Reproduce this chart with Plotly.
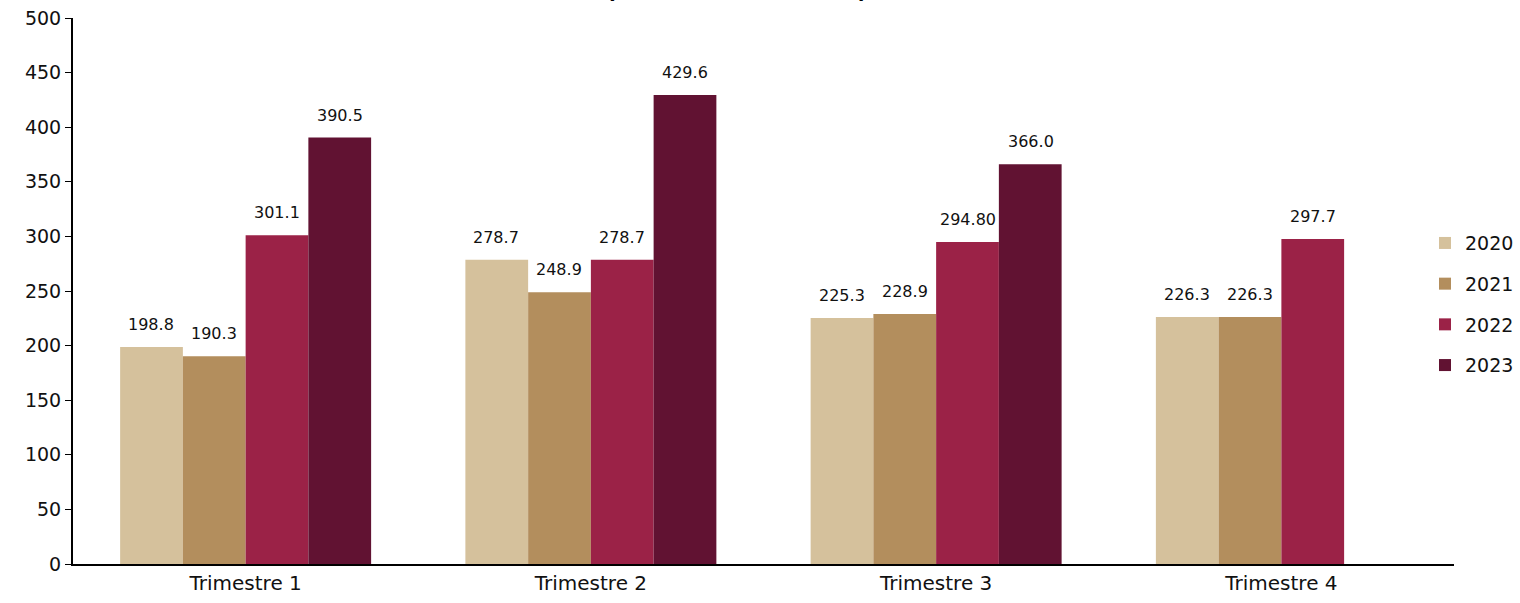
import plotly.graph_objects as go

categories = ["Trimestre 1", "Trimestre 2", "Trimestre 3", "Trimestre 4"]
years = ["2020", "2021", "2022", "2023"]
values = {
    "2020": [198.8, 278.7, 225.3, 226.3],
    "2021": [190.3, 248.9, 228.9, 226.3],
    "2022": [301.1, 278.7, 294.8, 297.7],
    "2023": [390.5, 429.6, 366.0, None],
}
labels = {
    "2020": ["198.8", "278.7", "225.3", "226.3"],
    "2021": ["190.3", "248.9", "228.9", "226.3"],
    "2022": ["301.1", "278.7", "294.80", "297.7"],
    "2023": ["390.5", "429.6", "366.0", ""],
}
colors = {"2020": "#D5C19C", "2021": "#B38E5D", "2022": "#9B2247", "2023": "#611232"}
title_text = "(Millones de dólares)"

FONT = "DejaVu Sans, Open Sans, sans-serif"

fig = go.Figure()
for y in years:
    fig.add_trace(go.Bar(
        name=y, x=categories, y=values[y],
        marker=dict(color=colors[y], line=dict(width=0)),
        legendgroup=y, offsetgroup=y,
    ))

# data labels above bars
n = len(years)
for i, y in enumerate(years):
    for j, c in enumerate(categories):
        v = values[y][j]
        if v is None:
            continue
        fig.add_annotation(
            x=c, y=v, text=labels[y][j], showarrow=False,
            xref="x", yref="y", yanchor="bottom", yshift=11,
            xshift=(i - (n - 1) / 2) * 63,
            font=dict(family=FONT, size=16, color="#111"),
        )

fig.add_annotation(
    x=0.481, y=1, xref="paper", yref="paper", yanchor="bottom", yshift=13,
    text="<b>" + title_text + "</b>", showarrow=False,
    font=dict(family=FONT, size=22, color="#000"),
)

fig.update_layout(
    width=1520, height=603,
    margin=dict(l=73, r=66, t=18, b=39, autoexpand=False),
    paper_bgcolor="white", plot_bgcolor="white",
    barmode="group", bargap=0.273, bargroupgap=0,
    font=dict(family=FONT, size=18, color="#111"),
    showlegend=True,
    legend=dict(x=0.979, xanchor="left", y=0.476, yanchor="middle",
                font=dict(family=FONT, size=19, color="#111"),
                tracegroupgap=13, itemwidth=30, bgcolor="rgba(0,0,0,0)"),
    xaxis=dict(showline=True, linecolor="#000", linewidth=2, ticks="",
               showgrid=False, automargin=False, tickfont=dict(size=20)),
    yaxis=dict(range=[0, 500], dtick=50, showline=True, linecolor="#000",
               linewidth=2, ticks="outside", ticklen=6, tickcolor="#000",
               showgrid=False, zeroline=False, automargin=False,
               tickfont=dict(size=19)),
)

fig.write_html("out.html", config={"displayModeBar": False},
               post_script="document.body.style.margin='0';")
